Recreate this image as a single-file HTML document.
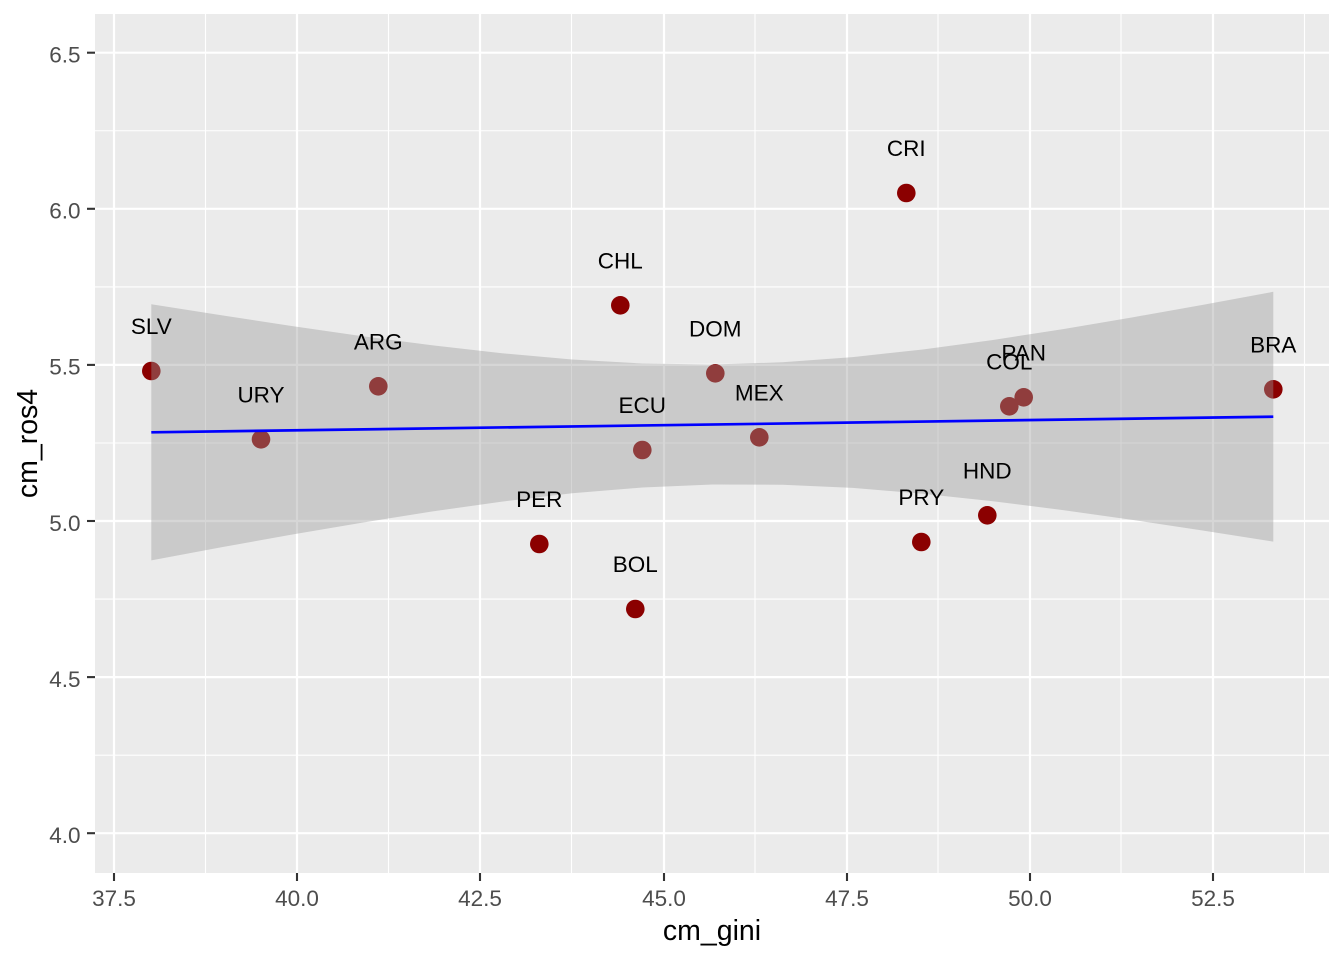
<!DOCTYPE html>
<html>
<head>
<meta charset="utf-8">
<style>
html,body{margin:0;padding:0;background:#ffffff;}
svg{display:block;}
text{font-family:"Liberation Sans",Arial,sans-serif;}
</style>
</head>
<body>
<svg width="1344" height="960" viewBox="0 0 1344 960" xmlns="http://www.w3.org/2000/svg">
<rect x="0" y="0" width="1344" height="960" fill="#ffffff"/>
<defs><clipPath id="pc"><rect x="95" y="14" width="1234" height="859"/></clipPath></defs>
<!-- panel -->
<rect x="95" y="14" width="1234" height="859" fill="#EBEBEB"/>
<g clip-path="url(#pc)">
<!-- minor grid -->
<g stroke="#ffffff" stroke-width="1.1" fill="none">
<line x1="95" x2="1329" y1="130.75" y2="130.75"/>
<line x1="95" x2="1329" y1="286.9" y2="286.9"/>
<line x1="95" x2="1329" y1="443" y2="443"/>
<line x1="95" x2="1329" y1="599.1" y2="599.1"/>
<line x1="95" x2="1329" y1="755.2" y2="755.2"/>
<line y1="14" y2="873" x1="205.5" x2="205.5"/>
<line y1="14" y2="873" x1="388.5" x2="388.5"/>
<line y1="14" y2="873" x1="571.5" x2="571.5"/>
<line y1="14" y2="873" x1="755" x2="755"/>
<line y1="14" y2="873" x1="938" x2="938"/>
<line y1="14" y2="873" x1="1121" x2="1121"/>
<line y1="14" y2="873" x1="1304.5" x2="1304.5"/>
</g>
<!-- major grid -->
<g stroke="#ffffff" stroke-width="2.2" fill="none">
<line x1="95" x2="1329" y1="52.7" y2="52.7"/>
<line x1="95" x2="1329" y1="208.8" y2="208.8"/>
<line x1="95" x2="1329" y1="364.9" y2="364.9"/>
<line x1="95" x2="1329" y1="521" y2="521"/>
<line x1="95" x2="1329" y1="677.1" y2="677.1"/>
<line x1="95" x2="1329" y1="833.2" y2="833.2"/>
<line y1="14" y2="873" x1="114" x2="114"/>
<line y1="14" y2="873" x1="297" x2="297"/>
<line y1="14" y2="873" x1="480" x2="480"/>
<line y1="14" y2="873" x1="664" x2="664"/>
<line y1="14" y2="873" x1="847" x2="847"/>
<line y1="14" y2="873" x1="1030" x2="1030"/>
<line y1="14" y2="873" x1="1213" x2="1213"/>
</g>
<!-- points -->
<g fill="#8B0000">
<circle cx="151.3" cy="371" r="9.3"/>
<circle cx="261" cy="439.3" r="9.3"/>
<circle cx="378.3" cy="386.3" r="9.3"/>
<circle cx="539.3" cy="544" r="9.3"/>
<circle cx="620.3" cy="305.3" r="9.3"/>
<circle cx="635.3" cy="609" r="9.3"/>
<circle cx="642.3" cy="450" r="9.3"/>
<circle cx="715.3" cy="373.3" r="9.3"/>
<circle cx="759.3" cy="437.3" r="9.3"/>
<circle cx="906.3" cy="193" r="9.3"/>
<circle cx="921.3" cy="542" r="9.3"/>
<circle cx="987.3" cy="515.3" r="9.3"/>
<circle cx="1009.3" cy="406.3" r="9.3"/>
<circle cx="1023.7" cy="397.3" r="9.3"/>
<circle cx="1273.3" cy="389.3" r="9.3"/>
</g>
<!-- ribbon -->
<polygon fill="#999999" fill-opacity="0.4" points="151.3,304.2 221.4,315.3 291.6,326.0 361.7,336.1 431.9,345.3 502,353.2 572.1,359.5 642.3,363.5 712.4,364.5 782.5,362.3 852.7,357.1 922.8,349.5 993,340.0 1063.1,329.1 1133.2,317.2 1203.4,304.8 1273.3,291.8 1273.3,541.6 1203.4,530.6 1133.2,520.0 1063.1,510.1 993,501.2 922.8,493.7 852.7,487.9 782.5,484.7 712.4,484.5 642.3,487.5 572.1,493.3 502,501.6 431.9,511.5 361.7,522.7 291.6,534.6 221.4,547.3 151.3,560.4"/>
<!-- regression line -->
<line x1="151.3" y1="432.3" x2="1273.3" y2="416.7" stroke="#0000FF" stroke-width="2.7"/>
<!-- labels -->
<g font-size="22.5" fill="#000000" text-anchor="middle">
<text x="151.3" y="334">SLV</text>
<text x="261" y="402.3">URY</text>
<text x="378.3" y="349.3">ARG</text>
<text x="539.3" y="507">PER</text>
<text x="620.3" y="268.3">CHL</text>
<text x="635.3" y="572">BOL</text>
<text x="642.3" y="413">ECU</text>
<text x="715.3" y="336.3">DOM</text>
<text x="759.3" y="400.3">MEX</text>
<text x="906.3" y="156">CRI</text>
<text x="921.3" y="505">PRY</text>
<text x="987.3" y="478.3">HND</text>
<text x="1009.3" y="369.3">COL</text>
<text x="1023.7" y="360.3">PAN</text>
<text x="1273.3" y="352.3">BRA</text>
</g>
</g>
<!-- ticks -->
<g stroke="#333333" stroke-width="2.1">
<line x1="87" x2="95" y1="52.7" y2="52.7"/>
<line x1="87" x2="95" y1="208.8" y2="208.8"/>
<line x1="87" x2="95" y1="364.9" y2="364.9"/>
<line x1="87" x2="95" y1="521" y2="521"/>
<line x1="87" x2="95" y1="677.1" y2="677.1"/>
<line x1="87" x2="95" y1="833.2" y2="833.2"/>
<line y1="873" y2="881" x1="114" x2="114"/>
<line y1="873" y2="881" x1="297" x2="297"/>
<line y1="873" y2="881" x1="480" x2="480"/>
<line y1="873" y2="881" x1="664" x2="664"/>
<line y1="873" y2="881" x1="847" x2="847"/>
<line y1="873" y2="881" x1="1030" x2="1030"/>
<line y1="873" y2="881" x1="1213" x2="1213"/>
</g>
<!-- tick labels -->
<g font-size="22.5" fill="#4D4D4D" text-anchor="end">
<text x="80.5" y="62.5">6.5</text>
<text x="80.5" y="218.6">6.0</text>
<text x="80.5" y="374.7">5.5</text>
<text x="80.5" y="530.8">5.0</text>
<text x="80.5" y="686.9">4.5</text>
<text x="80.5" y="843">4.0</text>
</g>
<g font-size="22.5" fill="#4D4D4D" text-anchor="middle">
<text x="114" y="906">37.5</text>
<text x="297" y="906">40.0</text>
<text x="480" y="906">42.5</text>
<text x="664" y="906">45.0</text>
<text x="847" y="906">47.5</text>
<text x="1030" y="906">50.0</text>
<text x="1213" y="906">52.5</text>
</g>
<!-- axis titles -->
<text x="712" y="940" font-size="28.5" fill="#000000" text-anchor="middle">cm_gini</text>
<text transform="translate(37,443.5) rotate(-90)" x="0" y="0" font-size="28.5" fill="#000000" text-anchor="middle">cm_ros4</text>
</svg>
</body>
</html>
